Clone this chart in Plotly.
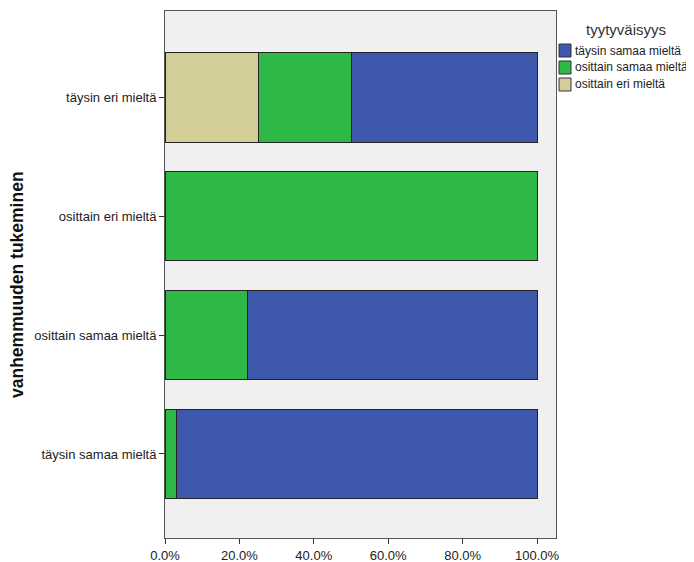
import plotly.graph_objects as go

categories = ["täysin samaa mieltä", "osittain samaa mieltä", "osittain eri mieltä", "täysin eri mieltä"]
series_names = ["osittain eri mieltä", "osittain samaa mieltä", "täysin samaa mieltä"]
osittain_eri = [0.0, 0.0, 0.0, 25.0]
osittain_samaa = [3.2, 22.3, 100.0, 25.0]
taysin_samaa = [96.8, 77.7, 0.0, 50.0]
colors = ["#D3CE97", "#2EB848", "#3E58AC"]
x_ticks = [0, 20, 40, 60, 80, 100]
x_tick_labels = ["0.0%", "20.0%", "40.0%", "60.0%", "80.0%", "100.0%"]
legend_title = "tyytyväisyys"
y_title = "vanhemmuuden tukeminen"

# the page shows the figure with an 8px body margin; compensate
O = 8
W, H = 694 - O, 562 - O
L, R, T, B = 165 - O, 138, 11 - O, 24
PW, PH = W - L - R, H - T - B


def px(x):
    return (x - O - L) / PW


def py(y):
    return 1 - (y - O - T) / PH


fig = go.Figure()
for name, vals, col in zip(series_names, [osittain_eri, osittain_samaa, taysin_samaa], colors):
    fig.add_trace(go.Bar(
        y=categories, x=vals, name=name, orientation="h",
        marker=dict(color=col, line=dict(color="#222222", width=1)),
        width=0.756, showlegend=False,
    ))

font = "Liberation Sans, Arial, sans-serif"
shapes = []
annotations = []
# custom legend (items listed in reverse stacking order)
leg_items = list(zip(series_names, colors))[::-1]
for i, (name, col) in enumerate(leg_items):
    yc = 50.5 + 17 * i
    shapes.append(dict(type="rect", xref="paper", yref="paper",
                       x0=px(559), x1=px(571), y0=py(yc - 6.5), y1=py(yc + 6.5),
                       fillcolor=col, line=dict(color="#333333", width=1)))
    annotations.append(dict(text=name, xref="paper", yref="paper", x=px(573), y=py(yc),
                            xanchor="left", yanchor="middle", showarrow=False,
                            font=dict(size=12, color="#222222", family=font)))
annotations.append(dict(text=legend_title, xref="paper", yref="paper", x=px(626), y=py(30),
                        xanchor="center", yanchor="middle", showarrow=False,
                        font=dict(size=15, color="#333333", family=font)))
annotations.append(dict(text="<b>" + y_title + "</b>", xref="paper", yref="paper", x=px(17), y=py(285),
                        xanchor="center", yanchor="middle", showarrow=False, textangle=-90,
                        font=dict(size=17.5, color="#111111", family=font)))

fig.update_layout(
    barmode="stack",
    width=W, height=H,
    margin=dict(l=L, r=R, t=T, b=B, autoexpand=False),
    paper_bgcolor="white",
    plot_bgcolor="#F0F0F0",
    font=dict(family=font, size=13, color="#222222"),
    showlegend=False,
    shapes=shapes,
    annotations=annotations,
)
fig.update_xaxes(
    range=[0, 105.1], tickvals=x_ticks, ticktext=x_tick_labels,
    ticks="outside", ticklen=5, tickcolor="#333333",
    showgrid=False, zeroline=False, automargin=False,
    showline=True, linecolor="#555555", linewidth=1, mirror=True,
)
fig.update_yaxes(
    categoryorder="array", categoryarray=categories,
    range=[-0.706, 3.723],
    ticks="outside", ticklen=5, tickcolor="#333333",
    showgrid=False, zeroline=False, automargin=False,
    showline=True, linecolor="#555555", linewidth=1, mirror=True,
)
fig.write_html("out.html")
